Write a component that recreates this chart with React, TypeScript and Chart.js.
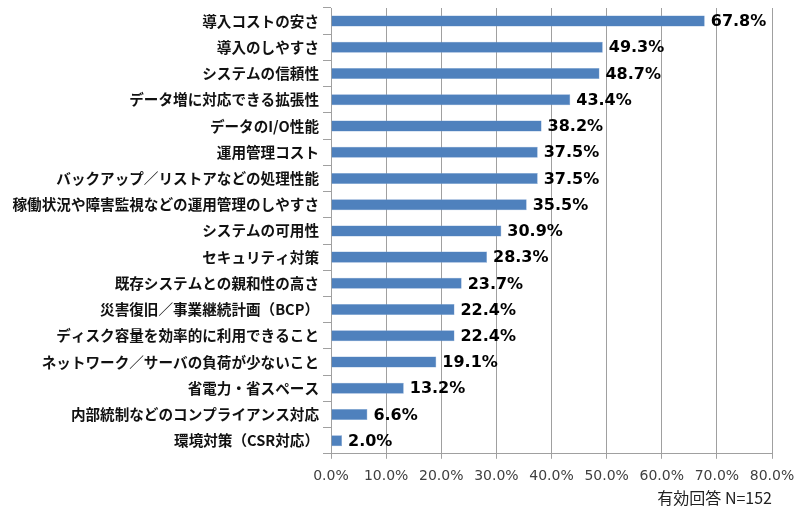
import { useEffect, useRef } from 'react';
import Chart from 'chart.js/auto';

const categories = [
  '導入コストの安さ',
  '導入のしやすさ',
  'システムの信頼性',
  'データ増に対応できる拡張性',
  'データのI/O性能',
  '運用管理コスト',
  'バックアップ／リストアなどの処理性能',
  '稼働状況や障害監視などの運用管理のしやすさ',
  'システムの可用性',
  'セキュリティ対策',
  '既存システムとの親和性の高さ',
  '災害復旧／事業継続計画（BCP）',
  'ディスク容量を効率的に利用できること',
  'ネットワーク／サーバの負荷が少ないこと',
  '省電力・省スペース',
  '内部統制などのコンプライアンス対応',
  '環境対策（CSR対応）',
];

const values = [67.8, 49.3, 48.7, 43.4, 38.2, 37.5, 37.5, 35.5, 30.9, 28.3, 23.7, 22.4, 22.4, 19.1, 13.2, 6.6, 2.0];

const footnote = '有効回答 N=152';

const BAR_COLOR = '#4F81BD';
const GRID_COLOR = '#A0A0A0';

const valueLabels = {
  id: 'valueLabels',
  afterDatasetsDraw(chart: Chart) {
    const ctx = chart.ctx;
    const meta = chart.getDatasetMeta(0);
    ctx.save();
    ctx.font = 'bold 16px "DejaVu Sans"';
    ctx.fillStyle = '#000';
    ctx.textAlign = 'left';
    ctx.textBaseline = 'middle';
    meta.data.forEach((bar: any, i: number) => {
      ctx.fillText(values[i].toFixed(1) + '%', bar.x + 6, bar.y + 1);
    });
    ctx.restore();
  },
};

const BarChart = () => {
  const chartRef = useRef<HTMLCanvasElement>(null);
  const chartInstance = useRef<Chart<'bar', number[], string>>();

  useEffect(() => {
    document.body.style.margin = '0';
    if (chartInstance.current) {
      chartInstance.current.destroy();
    }
    const ctx = chartRef.current?.getContext('2d');
    if (!ctx) return;

    chartInstance.current = new Chart(ctx, {
      type: 'bar',
      data: {
        labels: categories,
        datasets: [
          {
            data: values,
            backgroundColor: BAR_COLOR,
            borderColor: '#7A9FD0',
            borderWidth: 0.5,
            barPercentage: 0.7,
            categoryPercentage: 0.6,
          },
        ],
      },
      options: {
        indexAxis: 'y',
        responsive: true,
        maintainAspectRatio: false,
        animation: false,
        layout: {
          padding: { top: 8, right: 28, bottom: 4, left: 0 },
        },
        plugins: {
          legend: { display: false },
          tooltip: { enabled: false },
          title: {
            display: true,
            text: footnote,
            position: 'bottom',
            align: 'end',
            color: '#222',
            font: { family: '"Noto Sans CJK JP", "DejaVu Sans"', size: 16, weight: 'normal' },
            padding: { top: 2, bottom: 0 },
          },
        },
        scales: {
          x: {
            min: 0,
            max: 80,
            ticks: {
              stepSize: 10,
              callback: (v) => Number(v).toFixed(1) + '%',
              color: '#404040',
              font: { family: '"DejaVu Sans"', size: 14 },
              padding: 9,
              maxRotation: 0,
            },
            grid: {
              color: GRID_COLOR,
              tickLength: 5,
            },
            border: { color: GRID_COLOR },
            afterFit: (scale: any) => {
              scale.height = 33;
              scale.paddingLeft = 0;
              scale.paddingRight = 0;
            },
          },
          y: {
            ticks: {
              color: '#111',
              font: { family: '"Noto Sans CJK JP"', size: 14.6, weight: 'bold' },
              padding: 4,
              autoSkip: false,
            },
            grid: {
              offset: true,
              drawOnChartArea: false,
              color: GRID_COLOR,
              tickLength: 8,
            },
            border: { color: GRID_COLOR },
            afterFit: (scale: any) => {
              scale.width = 331;
              scale.paddingTop = 0;
              scale.paddingBottom = 0;
            },
          },
        },
      },
      plugins: [valueLabels],
    });

    return () => {
      if (chartInstance.current) {
        chartInstance.current.destroy();
      }
    };
  }, []);

  return (
    <div style={{ width: 800, height: 512, position: 'relative', background: '#fff' }}>
      <canvas ref={chartRef} />
    </div>
  );
};

export default function App() {
  return <BarChart />;
}
